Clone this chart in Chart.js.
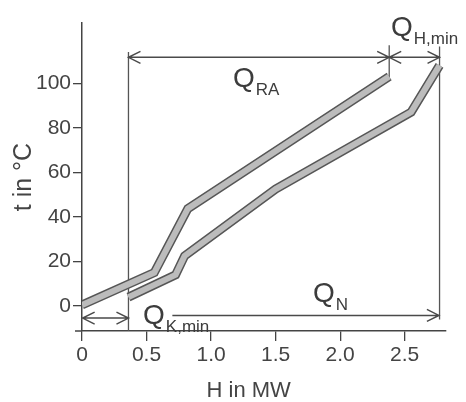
<!DOCTYPE html>
<html>
<head>
<meta charset="utf-8">
<title>Composite curves</title>
<script src="https://cdn.jsdelivr.net/npm/chart.js"></script>
<style>
  body { margin: 0; background: #fff; }
  canvas { display: block; }
</style>
</head>
<body>
<canvas id="chart" width="466" height="402"></canvas>
<script>
// upper band (starts at the origin) and lower band, H in MW / t in °C
const band1H = [0, 0.56, 0.82, 2.38];
const band1T = [0.5, 15, 43.7, 103];
const band2H = [0.36, 0.725, 0.795, 1.5, 2.55, 2.77];
const band2T = [4, 14, 22.5, 52.5, 87, 108];

const xTicks = [0, 0.5, 1, 1.5, 2, 2.5];
const xTickLabels = ['0', '0.5', '1.0', '1.5', '2.0', '2.5'];
const yTicks = [0, 20, 40, 60, 80, 100];

// vertical guide lines
const guideH = [0.36, 2.38, 2.77];
const guideTop = [114, 117, 116.5];
const guideBottom = [-11.2, 101, -6];

// dimension arrows and their Q labels
const arrowNames = ['RA', 'H,min', 'K,min', 'N'];
const arrowFrom = [0.36, 2.38, 0.005, 0.70];
const arrowTo = [2.38, 2.77, 0.36, 2.765];
const arrowT = [111.6, 111.6, -5.4, -4.2];
const arrowBoth = [true, true, true, false];
const labelH = [1.17, 2.394, 0.473, 1.79];
const labelT = [98.3, 121.2, -8.1, 1.8];

const family = '"Liberation Sans", Arial, sans-serif';
const ink = '#444';

const pts = (hs, ts) => hs.map((h, i) => ({x: h, y: ts[i]}));
const lineStyle = {pointRadius: 0, tension: 0, fill: false, borderJoinStyle: 'miter', borderCapStyle: 'butt'};

const datasets = [
  {...lineStyle, data: pts(band1H, band1T), borderColor: '#bcbcbc', borderWidth: 6, order: 1},
  {...lineStyle, data: pts(band1H, band1T), borderColor: '#565656', borderWidth: 9, order: 2},
  {...lineStyle, data: pts(band2H, band2T), borderColor: '#bcbcbc', borderWidth: 6, order: 3},
  {...lineStyle, data: pts(band2H, band2T), borderColor: '#565656', borderWidth: 9, order: 4}
];
guideH.forEach((h, i) => {
  datasets.push({...lineStyle, data: [{x: h, y: guideTop[i]}, {x: h, y: guideBottom[i]}],
    borderColor: '#555', borderWidth: 1.3, order: 5});
});

function head(ctx, px, py, dir) {
  ctx.moveTo(px + dir * 12, py - 6);
  ctx.lineTo(px, py);
  ctx.lineTo(px + dir * 12, py + 6);
}

const annotate = {
  id: 'annotate',
  afterDatasetsDraw(chart) {
    const {ctx, chartArea} = chart;
    const x = chart.scales.x, y = chart.scales.y;
    ctx.save();
    // x axis runs a little past the y axis, as in the drawing
    ctx.strokeStyle = ink;
    ctx.lineWidth = 1.5;
    ctx.beginPath();
    ctx.moveTo(chartArea.left - 7, chartArea.bottom);
    ctx.lineTo(chartArea.left, chartArea.bottom);
    ctx.stroke();

    ctx.strokeStyle = '#4a4a4a';
    arrowNames.forEach((name, i) => {
      const x0 = x.getPixelForValue(arrowFrom[i]);
      const x1 = x.getPixelForValue(arrowTo[i]);
      const yy = y.getPixelForValue(arrowT[i]);
      ctx.beginPath();
      ctx.moveTo(x0, yy);
      ctx.lineTo(x1, yy);
      head(ctx, x1, yy, -1);
      if (arrowBoth[i]) head(ctx, x0, yy, 1);
      ctx.stroke();

      const lx = x.getPixelForValue(labelH[i]);
      const ly = y.getPixelForValue(labelT[i]);
      ctx.fillStyle = '#3c3c3c';
      ctx.textBaseline = 'alphabetic';
      ctx.textAlign = 'left';
      ctx.font = '28px ' + family;
      ctx.fillText('Q', lx, ly);
      const w = ctx.measureText('Q').width;
      ctx.font = '17px ' + family;
      ctx.fillText(name, lx + w + 1, ly + 8);
    });
    ctx.restore();
  }
};

new Chart(document.getElementById('chart'), {
  type: 'scatter',
  data: {datasets},
  options: {
    responsive: false,
    animation: false,
    showLine: true,
    layout: {padding: {top: 23, right: 20, left: 0, bottom: 0}},
    plugins: {legend: {display: false}, tooltip: {enabled: false}},
    scales: {
      x: {
        type: 'linear', min: 0, max: 2.82,
        afterBuildTicks: s => { s.ticks = xTicks.map(v => ({value: v})); },
        afterFit: s => { s.height = 71; },
        ticks: {
          autoSkip: false, maxRotation: 0, color: ink, padding: 2,
          font: {size: 21, family},
          callback: v => xTickLabels[xTicks.indexOf(v)]
        },
        grid: {drawOnChartArea: false, tickLength: 10, color: ink, lineWidth: 1.3},
        border: {color: ink, width: 1.5},
        title: {display: true, text: 'H in MW     ', color: ink, padding: 0,
          font: {size: 22, family, lineHeight: 1}}
      },
      y: {
        min: -11.2, max: 127,
        afterBuildTicks: s => { s.ticks = yTicks.map(v => ({value: v})); },
        afterFit: s => { s.width = 82; },
        ticks: {autoSkip: false, color: ink, padding: 2, font: {size: 21, family}},
        grid: {drawOnChartArea: false, tickLength: 9, color: ink, lineWidth: 1.3},
        border: {color: ink, width: 1.5},
        title: {display: true, text: 't in °C', color: ink, padding: {top: 11.5, bottom: 0},
          font: {size: 25, family, lineHeight: 1}}
      }
    }
  },
  plugins: [annotate]
});
</script>
</body>
</html>
